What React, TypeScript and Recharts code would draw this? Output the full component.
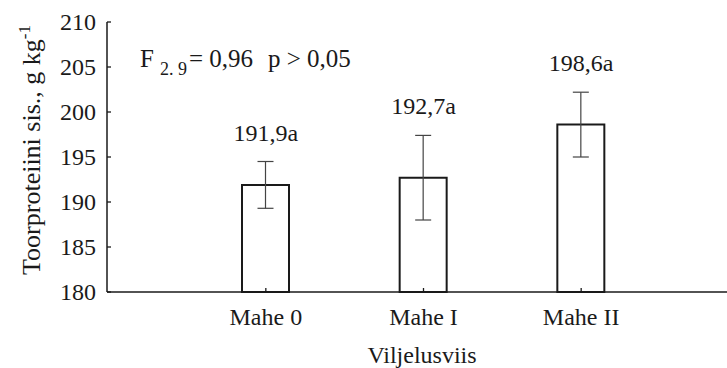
import { ComposedChart, Bar, Line, XAxis, YAxis, ErrorBar, LabelList } from "recharts";

const categories = ["Mahe 0", "Mahe I", "Mahe II"];
const means = [191.9, 192.7, 198.6];
const errors = [2.6, 4.7, 3.6];
const letters = ["a", "a", "a"];
const yTicks = [180, 185, 190, 195, 200, 205, 210];
const fDf = "2. 9";
const fValue = "0,96";
const pText = "p > 0,05";

const font = "Liberation Serif, Times New Roman, serif";
const ink = "#1a1a1a";

const data = categories.map((name, i) => ({
  name,
  mean: means[i],
  err: errors[i],
  top: means[i] + errors[i],
  label: means[i].toFixed(1).replace(".", ",") + letters[i],
}));

const YTick = (props: any) => {
  const { x, y, payload } = props;
  return (
    <g>
      <line x1={x + 11} x2={x + 15} y1={y} y2={y} stroke={ink} strokeWidth={1.3} />
      <text x={x} y={y} dy="0.35em" textAnchor="end" style={{ fontFamily: font, fontSize: 24 }} fill={ink}>
        {payload.value}
      </text>
    </g>
  );
};

const XTick = (props: any) => {
  const { x, y, payload } = props;
  return (
    <g>
      <line x1={x} x2={x} y1={y} y2={y - 4} stroke={ink} strokeWidth={1.3} />
      <text x={x} y={y + 33} textAnchor="middle" style={{ fontFamily: font, fontSize: 24 }} fill={ink}>
        {payload.value}
      </text>
    </g>
  );
};

export default function App() {
  return (
    <div style={{ position: "absolute", left: 0, top: 0, background: "#fff", fontFamily: font }}>
      <ComposedChart
        width={727}
        height={368}
        data={data}
        margin={{ top: 22, right: 0, bottom: 0, left: 0 }}
        style={{ fontFamily: font }}
      >
        <XAxis
          dataKey="name"
          padding={{ left: 80, right: 67 }}
          axisLine={{ stroke: ink, strokeWidth: 1.5 }}
          tickLine={false}
          tickSize={0}
          tickMargin={0}
          tick={<XTick />}
          height={76}
          interval={0}
        />
        <YAxis
          type="number"
          domain={[180, 210]}
          ticks={yTicks}
          width={107}
          axisLine={{ stroke: ink, strokeWidth: 1.5 }}
          tickLine={false}
          tickSize={0}
          tickMargin={11}
          tick={<YTick />}
          interval={0}
        />
        <Bar dataKey="mean" fill="#fff" stroke={ink} strokeWidth={2} barSize={47} isAnimationActive={false}>
          <ErrorBar dataKey="err" width={8} stroke="#444" strokeWidth={1.2} direction="y" />
        </Bar>
        <Line
          dataKey="top"
          stroke="none"
          dot={false}
          activeDot={false}
          legendType="none"
          isAnimationActive={false}
        >
          <LabelList
            dataKey="label"
            position="top"
            offset={21}
            fill={ink}
            style={{ fontFamily: font, fontSize: 24 }}
          />
        </Line>
        <text x={140} y={67} style={{ fontFamily: font, fontSize: 25 }} fill={ink}>
          F
          <tspan x={160} dy={8} style={{ fontSize: 18 }}>{fDf}</tspan>
          <tspan x={189} dy={-8}>{"= " + fValue}</tspan>
          <tspan x={268}>{pText}</tspan>
        </text>
        <text
          transform="rotate(-90)"
          x={-150}
          y={40}
          textAnchor="middle"
          style={{ fontFamily: font, fontSize: 26 }}
          fill={ink}
        >
          Toorproteiini sis., g kg
          <tspan dy={-10} style={{ fontSize: 17 }}>-1</tspan>
        </text>
        <text x={422} y={363} textAnchor="middle" style={{ fontFamily: font, fontSize: 24 }} fill={ink}>
          Viljelusviis
        </text>
      </ComposedChart>
    </div>
  );
}
